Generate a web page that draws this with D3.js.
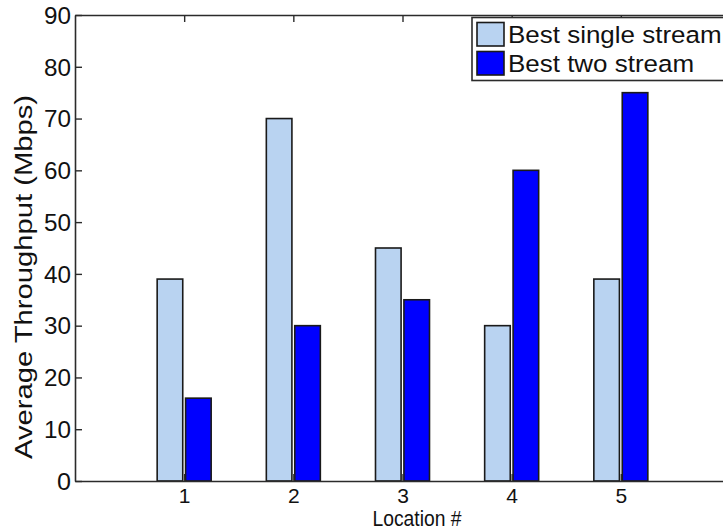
<!DOCTYPE html>
<html>
<head>
<meta charset="utf-8">
<script src="https://cdn.jsdelivr.net/npm/d3@7"></script>
<style>
  html, body { margin: 0; padding: 0; background: #fff; }
  svg { display: block; font-family: "Liberation Sans", Arial, Helvetica, sans-serif; }
</style>
</head>
<body>
<svg id="chart" width="723" height="531"></svg>
<script>
// Average throughput per location, two streaming strategies
const locations = [1, 2, 3, 4, 5];
const seriesNames = ["Best single stream", "Best two stream"];
const singleStream = [39, 70, 45, 30, 39];
const twoStream = [16, 30, 35, 60, 75];
const yTicks = [0, 10, 20, 30, 40, 50, 60, 70, 80, 90];
const seriesColors = ["#b9d3f1", "#0000ff"];

const svg = d3.select("#chart");
const plot = { left: 75, right: 730, top: 15, bottom: 481 };

const x = d3.scaleLinear().domain([0, 6]).range([plot.left, plot.right]);
const y = d3.scaleLinear().domain([0, 90]).range([plot.bottom, plot.top]);
const sub = d3.scaleBand().domain(seriesNames).range([-27, 27]).paddingInner(0.1);

const rows = locations.map((loc, i) => ({ loc, values: [singleStream[i], twoStream[i]] }));

// bars
const groups = svg.append("g").selectAll("g").data(rows).join("g")
  .attr("transform", d => `translate(${x(d.loc)},0)`);
groups.selectAll("rect")
  .data(d => d.values.map((v, k) => ({ v, k })))
  .join("rect")
  .attr("x", d => sub(seriesNames[d.k]))
  .attr("width", sub.bandwidth())
  .attr("y", d => y(d.v))
  .attr("height", d => y(0) - y(d.v))
  .attr("fill", d => seriesColors[d.k])
  .attr("stroke", "#1a1a1a")
  .attr("stroke-width", 1.6);

// axes with inward ticks on all four sides
const tickLen = 7;
const axisStyle = g => {
  g.select(".domain").attr("stroke", "#2b2b2b").attr("stroke-width", 1.6);
  g.selectAll(".tick line").attr("stroke", "#2b2b2b").attr("stroke-width", 1.4);
  g.selectAll("text").attr("fill", "#111");
};

svg.append("g").attr("transform", `translate(0,${plot.bottom})`)
  .call(d3.axisBottom(x).tickValues(locations).tickSize(-tickLen).tickSizeOuter(0).tickPadding(7).tickFormat(d3.format("d")))
  .call(axisStyle)
  .call(g => g.selectAll("text").attr("font-size", 21));

svg.append("g").attr("transform", `translate(0,${plot.top})`)
  .call(d3.axisTop(x).tickValues(locations).tickSize(-tickLen).tickSizeOuter(0).tickFormat(""))
  .call(axisStyle);

svg.append("g").attr("transform", `translate(${plot.left},0)`)
  .call(d3.axisLeft(y).tickValues(yTicks).tickSize(-tickLen).tickSizeOuter(0).tickPadding(4).tickFormat(d3.format("d")))
  .call(axisStyle)
  .call(g => g.selectAll("text").attr("font-size", 23).attr("dy", "0.36em")
    .attr("textLength", 27).attr("lengthAdjust", "spacingAndGlyphs")
    .filter(d => d < 10).attr("textLength", 14));

svg.append("g").attr("transform", `translate(${plot.right},0)`)
  .call(d3.axisRight(y).tickValues(yTicks).tickSize(-tickLen).tickSizeOuter(0).tickFormat(""))
  .call(axisStyle)
  .call(g => g.selectAll(".tick line").attr("stroke", "#bbb"));

// axis titles
svg.append("text")
  .attr("x", 417).attr("y", 526)
  .attr("text-anchor", "middle")
  .attr("font-size", 22)
  .attr("textLength", 89).attr("lengthAdjust", "spacingAndGlyphs")
  .attr("fill", "#111")
  .text("Location #");

svg.append("text")
  .attr("transform", "translate(32,277) rotate(-90)")
  .attr("text-anchor", "middle")
  .attr("font-size", 23)
  .attr("textLength", 364).attr("lengthAdjust", "spacingAndGlyphs")
  .attr("fill", "#111")
  .text("Average Throughput (Mbps)");

// legend
const legend = svg.append("g");
legend.append("rect")
  .attr("x", 472).attr("y", 17.5).attr("width", 300).attr("height", 63)
  .attr("fill", "#fff").attr("stroke", "#2b2b2b").attr("stroke-width", 1.6);
const items = legend.selectAll("g.item").data(seriesNames).join("g")
  .attr("class", "item")
  .attr("transform", (d, i) => `translate(477,${22.5 + i * 29})`);
items.append("rect")
  .attr("width", 27).attr("height", 23.5)
  .attr("fill", (d, i) => seriesColors[i])
  .attr("stroke", "#1a1a1a").attr("stroke-width", 1.6);
items.append("text")
  .attr("transform", "translate(31,20.5) scale(1.06,1)")
  .attr("font-size", 24.5)
  .attr("fill", "#111")
  .text(d => d);
</script>
</body>
</html>
